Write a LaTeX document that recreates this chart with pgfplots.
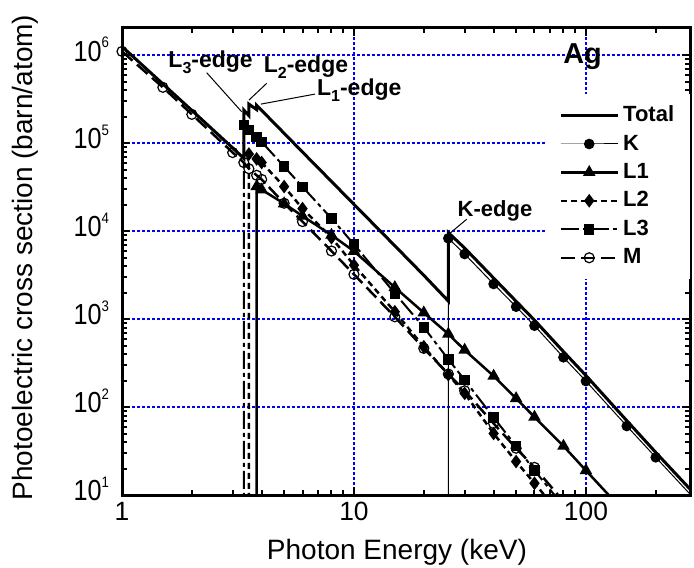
\documentclass[border=0pt]{standalone}
\usepackage{fontspec}
\setmainfont{Liberation Sans}
\newfontfamily\narrow{Liberation Sans}[FakeStretch=0.87]
\usepackage{pgfplots}
\pgfplotsset{compat=1.18}
\newcommand{\sups}[1]{\raisebox{6.8pt}{\fontsize{7.6}{7.6}\selectfont #1}}
\newcommand{\lows}[1]{\raisebox{-0.55ex}{\fontsize{8}{8}\selectfont #1}}
\begin{document}
\begin{tikzpicture}
\useasboundingbox (0,0) rectangle (347pt,283.5pt);
\begin{axis}[
  at={(61pt,36pt)}, anchor=south west,
  scale only axis, width=284pt, height=233.5pt,
  xmode=log, ymode=log,
  xmin=1, xmax=281, ymin=10, ymax=2.03e6,
  xtick={1,10,100}, xticklabels={1,10,100},
  minor xtick={2,3,4,5,6,7,8,9,20,30,40,50,60,70,80,90,200},
  ytick={10,100,1000,10000,100000,1000000},
  yticklabels={10\sups{1},10\sups{2},10\sups{3},10\sups{4},10\sups{5},10\sups{6}},
  minor ytick={20,30,40,50,60,70,80,90,200,300,400,500,600,700,800,900,2000,3000,4000,5000,6000,7000,8000,9000,20000,30000,40000,50000,60000,70000,80000,90000,200000,300000,400000,500000,600000,700000,800000,900000},
  xtick pos=both, ytick pos=both, tick align=inside,
  major tick length=4pt, minor tick length=2.6pt,
  tick style={black, line width=1pt},
  axis line style={line width=1.5pt},
  xmajorgrids, ymajorgrids,
  major grid style={blue, line width=0.9pt, dash pattern=on 1.4pt off 1.1pt},
  xticklabel style={font=\fontsize{13.2}{13.2}\selectfont},
  yticklabel style={font=\narrow\fontsize{14.5}{14.5}\selectfont, xshift=-3pt, yshift=3pt},
  xlabel={Photon Energy (keV)},
  ylabel={Photoelectric cross section (barn/atom)},
  label style={font=\fontsize{14}{14}\selectfont},
  xlabel style={at={(axis description cs:0.484,-0.139)}, anchor=base},
  ylabel style={at={(axis description cs:-0.171,0.5086)}, anchor=center},
  legend style={at={(rel axis cs:0.748,0.86)}, anchor=north west, draw=none, fill=white,
    font=\bfseries\fontsize{11}{11}\selectfont, row sep=1.1pt, inner xsep=6pt, inner ysep=4pt},
  legend cell align=left,
  legend image code/.code={\draw[mark repeat=2,mark phase=2,#1] plot coordinates {(0cm,0cm) (0.5cm,0cm) (1cm,0cm)};},
]
% Total
\addplot[black, line width=1.5pt, no markers] coordinates {
(1,1.25e6) (1.5,4.7e5) (2,2.35e5) (3,8.8e4) (3.351,6.7e4) (3.351,2.37e5) (3.524,2.05e5) (3.524,2.77e5)
(3.806,2.4e5) (3.806,2.68e5) (4,2.35e5) (5,1.29e5) (6,7.9e4) (8,3.66e4) (10,2.01e4) (15,6.8e3)
(20,3.14e3) (25.514,1.6e3) (25.514,9.6e3) (30,6.4e3) (40,2.92e3) (50,1.59e3) (60,970) (80,426)
(100,228) (150,70) (200,30.5) (300,9.7)};
\addlegendentry{Total}
% K
\addplot[black, line width=0.5pt, mark=*, mark size=2.4pt, mark options={solid, fill=black}] coordinates {
(25.514,0.01) (25.514,8260) (30,5480) (40,2500) (50,1380) (60,840) (80,367) (100,197) (150,60.8) (200,26.8) (300,8.5)};
\addlegendentry{K}
% L1
\addplot[black, line width=1.25pt, mark=triangle*, mark size=2.4pt, mark options={solid, fill=black}] coordinates {
(3.806,0.01) (3.806,3.2e4) (4,2.95e4) (5,2.05e4) (6,1.48e4) (8,9.0e3) (10,5.9e3) (15,2.29e3) (20,1.18e3)
(25.514,676) (30,444) (40,225) (50,125) (60,77) (80,36) (100,19) (150,6)};
\addlegendentry{L1}
% L2
\addplot[black, line width=1.25pt, dash pattern=on 3pt off 2pt, mark=diamond*, mark size=2.4pt, mark options={solid, fill=black}] coordinates {
(3.524,0.01) (3.524,7.5e4) (3.806,6.6e4) (4,6.0e4) (5,3.2e4) (6,1.8e4) (8,8.4e3) (10,4.1e3) (15,1.21e3)
(20,484) (25.514,233) (30,143) (40,50) (50,24) (60,13.6) (80,5.5) (100,2.8)};
\addlegendentry{L2}
% L3
\addplot[black, line width=1pt, dash pattern=on 9pt off 2pt on 2pt off 2pt, mark=square*, mark size=2.1pt, mark options={solid, fill=black}] coordinates {
(3.351,0.01) (3.351,1.6e5) (3.524,1.41e5) (3.806,1.18e5) (4,1.03e5) (5,5.4e4) (6,3.18e4) (8,1.39e4)
(10,7.07e3) (15,1.96e3) (20,805) (25.514,348) (30,203) (40,76) (50,36) (60,19) (80,7.5) (100,3.6)};
\addlegendentry{L3}
% M
\addplot[black, line width=1.25pt, dash pattern=on 7pt off 3pt, mark=o, mark size=2.5pt, mark options={solid, fill=white, line width=0.6pt}] coordinates {
(1,1.1e6) (1.5,4.3e5) (2,2.12e5) (3,7.8e4) (3.351,6.0e4) (3.524,5.1e4) (3.806,4.3e4) (4,3.86e4)
(5,2.07e4) (6,1.28e4) (8,5.93e3) (10,3.22e3) (15,1.06e3) (20,464) (25.514,237) (30,153) (40,65)
(50,34) (60,20.6) (80,8.5) (100,4.3)};
\addlegendentry{M}
% annotations
\draw[line width=0.5pt] (axis cs:2.318,6.3e5) -- (axis cs:3.28,2.27e5);
\draw[line width=0.5pt] (axis cs:4.205,4.77e5) -- (axis cs:3.527,3.08e5);
\draw[line width=0.5pt] (axis cs:6.79,3.6e5) -- (axis cs:3.97,2.77e5);
\draw[line width=0.5pt] (axis cs:30.6,1.36e4) -- (axis cs:25.9,9.4e3);
\node[anchor=base west, inner sep=0pt, font=\bfseries\fontsize{11.5}{12}\selectfont] at (axis cs:1.58,7.3e5) {L\lows{3}-edge};
\node[anchor=base west, inner sep=0pt, font=\bfseries\fontsize{11.5}{12}\selectfont] at (axis cs:4.07,6.4e5) {L\lows{2}-edge};
\node[anchor=base west, inner sep=0pt, font=\bfseries\fontsize{11.5}{12}\selectfont] at (axis cs:6.91,3.51e5) {L\lows{1}-edge};
\node[anchor=base west, inner sep=0pt, font=\bfseries\fontsize{11}{12}\selectfont] at (axis cs:27.9,1.46e4) {K-edge};
\node[anchor=base west, inner sep=0pt, font=\bfseries\fontsize{14.4}{15}\selectfont] at (axis cs:79.6,8.06e5) {Ag};
\end{axis}
\end{tikzpicture}
\end{document}
